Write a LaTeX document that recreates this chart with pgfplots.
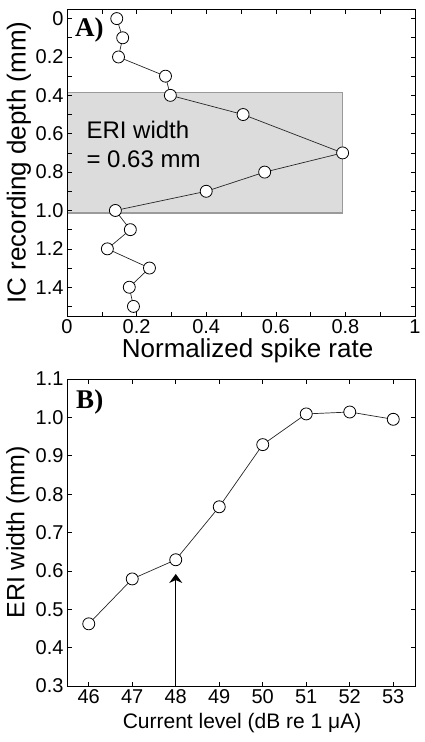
\documentclass[border=0pt]{standalone}
\usepackage{pgfplots}
\pgfplotsset{compat=1.18}
\usepackage{pgfplotstable}
\usepackage{fontspec}
\setmainfont{Liberation Sans}
\newfontfamily\timesf{Liberation Serif}
\usetikzlibrary{arrows.meta}
\definecolor{boxfill}{HTML}{DCDCDC}
\definecolor{boxedge}{HTML}{9A9A9A}

\pgfplotstableread{
x y
0.143 0
0.160 0.1
0.148 0.2
0.283 0.3
0.297 0.4
0.506 0.5
0.792 0.7
0.568 0.8
0.400 0.9
0.139 1.0
0.182 1.1
0.116 1.2
0.237 1.3
0.179 1.4
0.191 1.5
}\depthdata

\pgfplotstableread{
x y
46 0.462
47 0.579
48 0.629
49 0.767
50 0.929
51 1.009
52 1.014
53 0.995
}\widthdata

\pgfplotsset{
  mystyle/.style={
    scale only axis, width=348pt, height=307pt,
    tick align=inside, xtick pos=both, ytick pos=both,
    major tick length=4.5pt,
    tick style={black, line width=0.6pt},
    axis line style={black, line width=0.8pt},
    ticklabel style={font=\fontsize{20}{24}\selectfont},
    /pgf/number format/assume math mode=true,
    axis on top,
  },
  mymarks/.style={black!85, line width=0.7pt, mark=*, mark size=6pt,
    mark options={fill=white, draw=black, line width=0.8pt}},
}

\begin{document}
\begin{tikzpicture}
\path (0pt,0pt) rectangle (425pt,-742pt);

\begin{axis}[mystyle,
  at={(67pt,-9pt)}, anchor=north west,
  xmin=0, xmax=1, ymin=-0.05, ymax=1.55, y dir=reverse,
  xtick={0,0.1,0.2,0.3,0.4,0.5,0.6,0.7,0.8,0.9,1},
  xticklabels={0,,0.2,,0.4,,0.6,,0.8,,1},
  ytick={0,0.1,0.2,0.3,0.4,0.5,0.6,0.7,0.8,0.9,1.0,1.1,1.2,1.3,1.4,1.5},
  yticklabels={0,,0.2,,0.4,,0.6,,0.8,,1.0,,1.2,,1.4,},
  xlabel={Normalized spike rate},
  xlabel style={font=\fontsize{26}{30}\selectfont, at={(axis description cs:0.519,-0.1336)}, anchor=base},
  ylabel={IC recording depth (mm)},
  ylabel style={font=\fontsize{26}{30}\selectfont, at={(axis description cs:-0.138,0.5)}, anchor=center},
]
\addplot[fill=boxfill, draw=boxedge, line width=1.5pt] coordinates {(0,0.384) (0.792,0.384) (0.792,1.013) (0,1.013)} -- cycle;
\addplot[mymarks] table {\depthdata};
\node[anchor=base west, font=\fontsize{24}{29}\selectfont] at (axis cs:0.046,0.626) {ERI width};
\node[anchor=base west, font=\fontsize{24}{29}\selectfont] at (axis cs:0.046,0.777) {= 0.63 mm};
\node[anchor=base west, font=\timesf\bfseries\fontsize{27}{30}\selectfont, inner sep=0pt] at (axis description cs:0.023,0.912) {A)};
\end{axis}

\begin{axis}[mystyle,
  at={(67pt,-379pt)}, anchor=north west,
  xmin=45.5, xmax=53.5, ymin=0.3, ymax=1.1,
  xtick={46,47,48,49,50,51,52,53},
  ytick={0.3,0.4,0.5,0.6,0.7,0.8,0.9,1.0,1.1},
  yticklabels={0.3,0.4,0.5,0.6,0.7,0.8,0.9,1.0,1.1},
  xlabel={Current level (dB re 1 μA)},
  xlabel style={font=\fontsize{21}{25}\selectfont, at={(axis description cs:0.503,-0.137)}, anchor=base},
  ylabel={ERI width (mm)},
  ylabel style={font=\fontsize{25}{30}\selectfont, at={(axis description cs:-0.141,0.5)}, anchor=center},
]
\addplot[black, line width=1pt, -{Stealth[length=9pt,width=13pt]}] coordinates {(48,0.3) (48,0.592)};
\addplot[mymarks] table {\widthdata};
\node[anchor=base west, font=\timesf\bfseries\fontsize{27}{30}\selectfont, inner sep=0pt] at (axis description cs:0.026,0.9055) {B)};
\end{axis}
\end{tikzpicture}
\end{document}
